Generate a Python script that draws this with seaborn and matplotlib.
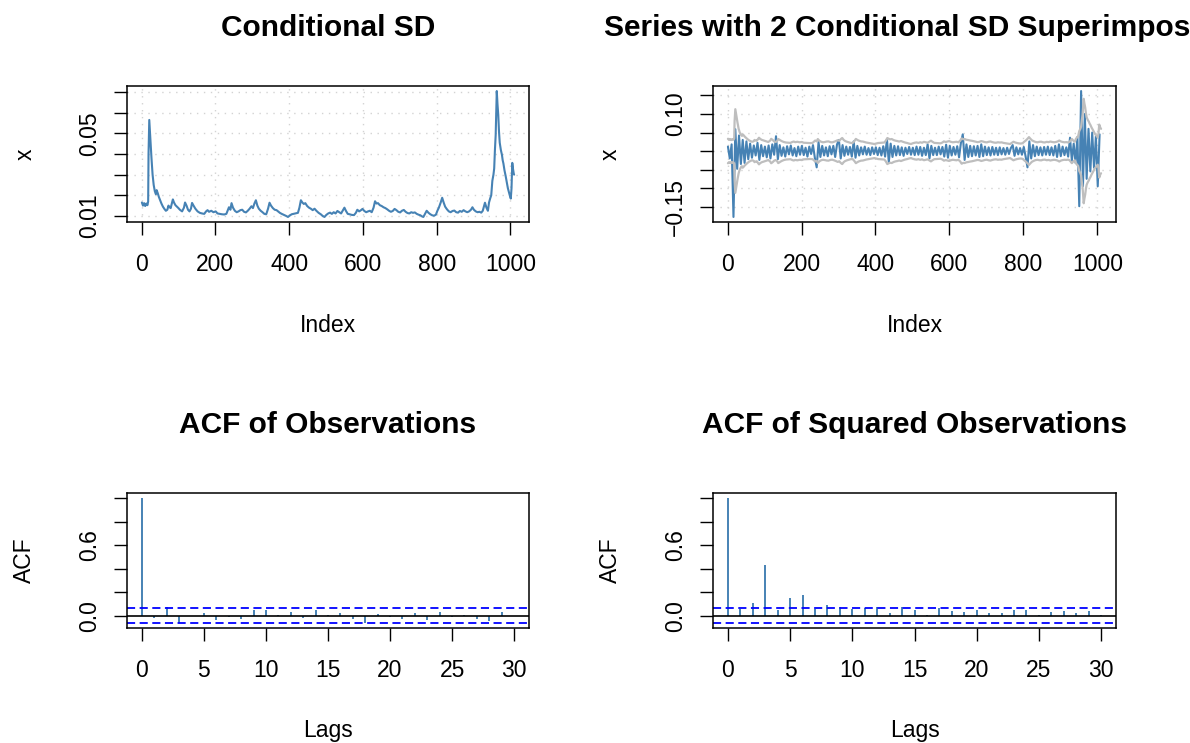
import numpy as np
import pandas as pd
import matplotlib
matplotlib.use("Agg")
import matplotlib.pyplot as plt
import seaborn as sns

# ---------------- data ----------------
n_obs = 1010

sd_index = [1, 4, 7, 10, 13, 16, 18, 19, 21, 24, 27, 30, 33, 36, 39, 41, 44, 47, 50, 54,
            58, 62, 66, 70, 73, 76, 79, 82, 85, 88, 92, 96, 100, 104, 110, 115, 118, 122, 126, 130,
            134, 137, 141, 146, 152, 158, 164, 170, 175, 179, 183, 189, 195, 201, 206, 212, 218, 224, 230, 234,
            237, 241, 244, 248, 253, 258, 263, 268, 273, 278, 283, 288, 293, 298, 302, 306, 310, 314, 318, 323,
            328, 333, 338, 343, 347, 351, 356, 361, 366, 370, 375, 380, 386, 392, 397, 402, 407, 412, 418, 424,
            428, 432, 436, 440, 444, 449, 454, 459, 464, 469, 474, 480, 486, 491, 496, 501, 506, 511, 516, 521,
            526, 531, 536, 541, 546, 550, 554, 559, 564, 570, 576, 581, 585, 590, 595, 599, 604, 609, 614, 619,
            624, 629, 633, 637, 641, 646, 651, 656, 661, 666, 671, 676, 681, 686, 691, 696, 701, 706, 711, 716,
            721, 726, 731, 736, 741, 746, 751, 756, 760, 764, 768, 773, 778, 783, 788, 793, 798, 802, 806, 811,
            815, 819, 823, 828, 833, 838, 843, 848, 853, 858, 863, 868, 873, 878, 883, 888, 893, 897, 901, 906,
            911, 916, 921, 925, 929, 931, 935, 939, 942, 945, 948, 951, 954, 956, 958, 960, 962, 963, 965, 967,
            969, 971, 974, 977, 979, 981, 984, 987, 990, 993, 996, 998, 1001, 1003, 1005, 1007, 1009, 1010]
sd_values = [0.0165, 0.0150, 0.0162, 0.0148, 0.0160, 0.0152, 0.0170, 0.0400, 0.0565, 0.0470,
             0.0380, 0.0300, 0.0250, 0.0220, 0.0205, 0.0225, 0.0210, 0.0192, 0.0178, 0.0160,
             0.0145, 0.0134, 0.0125, 0.0130, 0.0150, 0.0142, 0.0138, 0.0160, 0.0180, 0.0165,
             0.0152, 0.0145, 0.0138, 0.0130, 0.0122, 0.0140, 0.0165, 0.0150, 0.0130, 0.0122,
             0.0135, 0.0163, 0.0150, 0.0135, 0.0122, 0.0115, 0.0112, 0.0110, 0.0122, 0.0128,
             0.0120, 0.0125, 0.0118, 0.0122, 0.0112, 0.0110, 0.0108, 0.0107, 0.0110, 0.0128,
             0.0142, 0.0130, 0.0162, 0.0140, 0.0125, 0.0118, 0.0122, 0.0128, 0.0130, 0.0120,
             0.0117, 0.0125, 0.0135, 0.0147, 0.0138, 0.0160, 0.0176, 0.0150, 0.0135, 0.0125,
             0.0118, 0.0110, 0.0108, 0.0135, 0.0164, 0.0150, 0.0138, 0.0130, 0.0128, 0.0122,
             0.0115, 0.0110, 0.0105, 0.0100, 0.0095, 0.0102, 0.0108, 0.0110, 0.0112, 0.0115,
             0.0140, 0.0176, 0.0165, 0.0158, 0.0162, 0.0148, 0.0140, 0.0135, 0.0128, 0.0135,
             0.0125, 0.0115, 0.0108, 0.0100, 0.0095, 0.0105, 0.0112, 0.0116, 0.0110, 0.0118,
             0.0112, 0.0124, 0.0118, 0.0112, 0.0128, 0.0140, 0.0125, 0.0110, 0.0108, 0.0105,
             0.0104, 0.0115, 0.0130, 0.0122, 0.0128, 0.0134, 0.0124, 0.0118, 0.0122, 0.0125,
             0.0118, 0.0140, 0.0171, 0.0160, 0.0162, 0.0152, 0.0148, 0.0142, 0.0138, 0.0132,
             0.0125, 0.0120, 0.0124, 0.0134, 0.0128, 0.0120, 0.0117, 0.0125, 0.0129, 0.0120,
             0.0114, 0.0112, 0.0118, 0.0115, 0.0117, 0.0110, 0.0106, 0.0103, 0.0098, 0.0095,
             0.0108, 0.0125, 0.0115, 0.0108, 0.0103, 0.0101, 0.0106, 0.0125, 0.0140, 0.0165,
             0.0188, 0.0165, 0.0145, 0.0132, 0.0122, 0.0118, 0.0124, 0.0126, 0.0118, 0.0116,
             0.0124, 0.0120, 0.0128, 0.0122, 0.0118, 0.0122, 0.0130, 0.0142, 0.0130, 0.0122,
             0.0118, 0.0120, 0.0116, 0.0125, 0.0150, 0.0164, 0.0140, 0.0125, 0.0165, 0.0184,
             0.0200, 0.0270, 0.0300, 0.0330, 0.0420, 0.0490, 0.0640, 0.0705, 0.0640, 0.0590,
             0.0510, 0.0455, 0.0420, 0.0396, 0.0370, 0.0354, 0.0320, 0.0294, 0.0265, 0.0235,
             0.0215, 0.0201, 0.0184, 0.0235, 0.0357, 0.0328, 0.0305, 0.0300]

# observed series, one value every 5 observations (1, 6, 11, ..., 1006)
series_step = 5
series_values = [
    0.012, -0.020, 0.018, -0.178, 0.059, -0.048, 0.042, -0.035, 0.030, -0.032,
    0.026, -0.022, 0.020, -0.018, 0.015, -0.012, 0.022, -0.024, 0.016, -0.014,
    0.012, -0.017, 0.015, -0.020, 0.018, -0.010, 0.040, -0.022, 0.016, -0.013,
    0.010, -0.015, 0.013, -0.009, 0.015, -0.012, 0.008, -0.014, 0.012, -0.010,
    0.014, -0.011, 0.009, -0.015, 0.012, -0.008, 0.016, -0.018, -0.044, 0.024,
    -0.016, 0.014, -0.012, 0.010, -0.014, 0.013, -0.009, 0.014, -0.016, 0.018,
    0.030, -0.020, 0.016, -0.013, 0.012, -0.010, 0.011, -0.015, 0.026, -0.018,
    0.014, -0.012, 0.010, -0.009, 0.012, -0.010, 0.008, -0.011, 0.010, -0.008,
    0.010, -0.011, 0.009, -0.012, 0.013, -0.015, 0.032, -0.030, 0.020, -0.016,
    0.014, -0.012, 0.013, -0.011, 0.010, -0.013, 0.009, -0.008, 0.011, -0.010,
    0.009, -0.011, 0.012, -0.010, 0.011, -0.013, 0.009, -0.011, 0.018, -0.020,
    0.014, -0.011, 0.009, -0.011, 0.012, -0.009, 0.011, -0.015, 0.017, -0.018,
    0.014, -0.012, 0.011, -0.010, 0.013, -0.017, 0.022, 0.045, -0.024, 0.018,
    -0.016, 0.014, -0.014, 0.013, -0.012, 0.014, -0.016, 0.018, -0.014, 0.012,
    -0.011, 0.010, -0.012, 0.011, -0.010, 0.009, -0.011, 0.010, -0.009, 0.008,
    -0.010, 0.009, -0.008, 0.008, 0.016, -0.013, 0.010, -0.009, 0.008, -0.010,
    0.011, -0.015, -0.044, 0.026, -0.020, 0.016, -0.014, 0.012, -0.011, 0.010,
    -0.012, 0.011, -0.010, 0.012, -0.011, 0.010, -0.012, 0.014, -0.016, 0.018,
    -0.014, 0.012, -0.011, 0.010, -0.015, 0.036, -0.026, 0.020, -0.032, 0.038,
    -0.149, 0.162, -0.095, 0.100, -0.075, 0.060, -0.055, 0.050, -0.045, 0.040,
    -0.095, 0.045]
cond_mean = 0.0

acf_lags = list(range(31))
acf_obs = [1.0, -0.015, 0.07, -0.06, -0.005, 0.025, -0.04, -0.01, -0.025, 0.05,
           0.045, 0.01, 0.03, -0.02, 0.045, 0.005, 0.02, -0.03, -0.06, 0.015,
           -0.01, -0.03, 0.02, -0.04, 0.03, -0.01, 0.005, -0.03, -0.045, 0.035, -0.005]
acf_sq = [1.0, 0.06, 0.11, 0.43, 0.05, 0.15, 0.175, 0.06, 0.095, 0.075,
          0.06, 0.065, 0.075, 0.025, 0.075, 0.045, 0.003, 0.065, 0.04, 0.03,
          0.045, 0.025, 0.025, 0.045, 0.05, 0.01, 0.03, 0.04, 0.025, 0.04, 0.01]
acf_conf = 0.0617

titles = ["Conditional SD", "Series with 2 Conditional SD Superimposed",
          "ACF of Observations", "ACF of Squared Observations"]

# ---------------- style ----------------
sns.set_style("white")
plt.rcParams['font.family'] = ['Liberation Sans', 'DejaVu Sans']
plt.rcParams['text.color'] = 'black'
plt.rcParams['axes.labelcolor'] = 'black'
plt.rcParams['axes.titlecolor'] = 'black'

STEEL = "#4682B4"
GREY = "#BEBEBE"
FS = 16.5
FS_TITLE = 21.5

W, H = 1190, 743
fig = plt.figure(figsize=(W / 100, H / 100), dpi=100)


def px_axes(l, t, r, b):
    return fig.add_axes([l / W, 1 - b / H, (r - l) / W, (b - t) / H])


ax_tl = px_axes(127, 86, 529, 222)
ax_tr = px_axes(713, 86, 1116, 222)
ax_bl = px_axes(127, 493, 529, 628)
ax_br = px_axes(713, 493, 1116, 628)


def rlim(vals):
    lo, hi = float(np.min(vals)), float(np.max(vals))
    pad = 0.04 * (hi - lo)
    return lo - pad, hi + pad


def style(ax, yticks, ylabels, xticks, xlabel, ylabel, title, title_y, grid=False):
    ax.set_xticks(xticks)
    ax.set_xticklabels([str(t) for t in xticks])
    ax.set_yticks(yticks)
    ax.set_yticklabels(ylabels)
    for s in ax.spines.values():
        s.set_visible(True)
        s.set_color("black")
        s.set_linewidth(1.1)
    ax.tick_params(direction="out", length=9.5, width=1.0, labelsize=FS,
                   colors="black", bottom=True, left=True, top=False, right=False)
    ax.tick_params(axis="x", pad=12.5)
    ax.tick_params(axis="y", labelrotation=90, pad=9)
    for lab in ax.get_yticklabels():
        lab.set_va("center")
    if grid:
        ax.grid(True, color="#D3D3D3", linestyle=(0, (1, 4)), linewidth=1.0)
        ax.set_axisbelow(True)
    else:
        ax.grid(False)
    ax.set_xlabel(xlabel, fontsize=FS)
    ax.set_ylabel(ylabel, fontsize=FS)
    ax.xaxis.set_label_coords(0.5, -0.76)
    ax.xaxis.label.set_va("center")
    ax.yaxis.set_label_coords(-0.254, 0.5)
    ax.yaxis.label.set_va("center")
    ax.yaxis.label.set_ha("center")
    ax.set_title(title, fontsize=FS_TITLE, fontweight="bold", y=title_y, pad=0,
                 va="center", color="black")


# ---- panel 1: conditional SD ----
sd_df = pd.DataFrame({"Index": sd_index, "x": sd_values})
sns.lineplot(data=sd_df, x="Index", y="x", ax=ax_tl, color=STEEL, linewidth=1.5,
             estimator=None, sort=False)
ax_tl.set_xlim(*rlim([1, n_obs]))
ax_tl.set_ylim(*rlim(sd_values))
style(ax_tl, [0.01, 0.02, 0.03, 0.04, 0.05, 0.06, 0.07],
      ["0.01", "", "", "", "0.05", "", ""],
      [0, 200, 400, 600, 800, 1000], "Index", "x", titles[0], 1.428, grid=True)

# ---- panel 2: series with +/- 2 conditional SD ----
series_index = np.arange(1, 1 + series_step * len(series_values), series_step)
ser_df = pd.DataFrame({"Index": series_index, "x": series_values})
upper = [cond_mean + 2 * s for s in sd_values]
lower = [cond_mean - 2 * s for s in sd_values]
band_df = pd.DataFrame({"Index": sd_index, "upper": upper, "lower": lower})
sns.lineplot(data=ser_df, x="Index", y="x", ax=ax_tr, color=STEEL, linewidth=1.5,
             estimator=None, sort=False)
sns.lineplot(data=band_df, x="Index", y="upper", ax=ax_tr, color=GREY, linewidth=1.6,
             estimator=None, sort=False)
sns.lineplot(data=band_df, x="Index", y="lower", ax=ax_tr, color=GREY, linewidth=1.6,
             estimator=None, sort=False)
ax_tr.set_xlim(*rlim([1, n_obs]))
ax_tr.set_ylim(*rlim(series_values + upper + lower))
style(ax_tr, [-0.15, -0.10, -0.05, 0.0, 0.05, 0.10, 0.15],
      ["\u22120.15", "", "", "", "", "0.10", ""],
      [0, 200, 400, 600, 800, 1000], "Index", "x", titles[1], 1.428, grid=True)

# ---- panels 3/4: ACF ----
for ax, vals, title in [(ax_bl, acf_obs, titles[2]), (ax_br, acf_sq, titles[3])]:
    ax.vlines(acf_lags, 0, vals, color=STEEL, linewidth=1.4)
    ax.axhline(0, color="black", linewidth=1.2)
    ax.axhline(acf_conf, color="#0000FF", linestyle=(0, (4.5, 2.5)), linewidth=1.3)
    ax.axhline(-acf_conf, color="#0000FF", linestyle=(0, (4.5, 2.5)), linewidth=1.3)
    ax.set_xlim(*rlim([0, 30]))
    ax.set_ylim(*rlim([-acf_conf, acf_conf] + vals))
    style(ax, [0.0, 0.2, 0.4, 0.6, 0.8, 1.0], ["0.0", "", "", "0.6", "", ""],
          [0, 5, 10, 15, 20, 25, 30], "Lags", "ACF", title, 1.503)

fig.savefig("out.png", dpi=100)
